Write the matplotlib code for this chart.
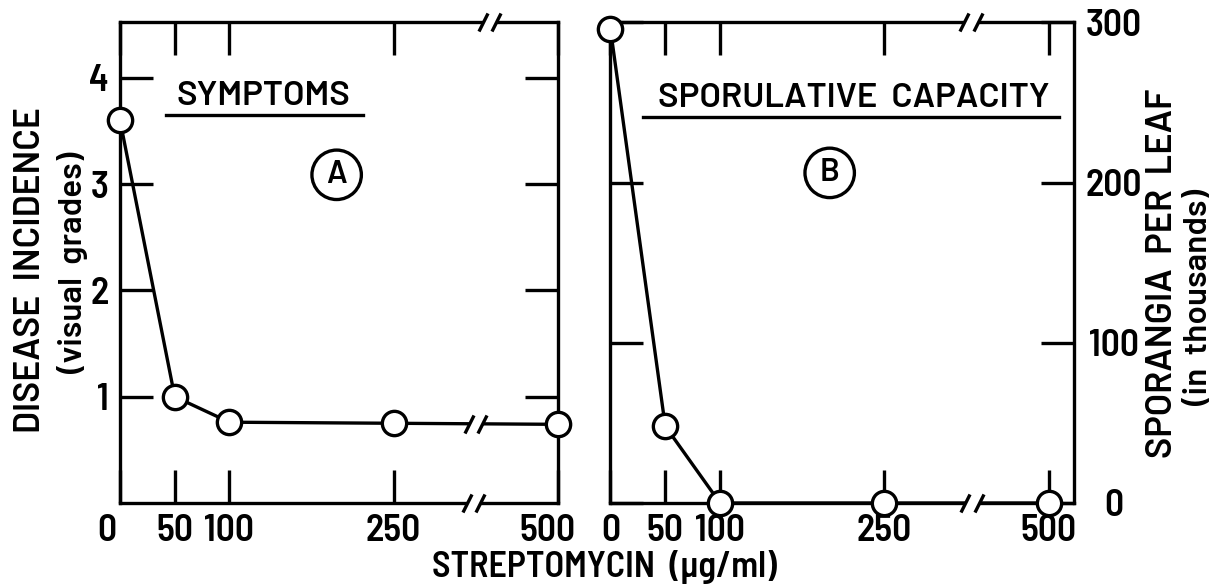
import matplotlib
matplotlib.use("Agg")
import matplotlib.pyplot as plt
from matplotlib.transforms import ScaledTranslation
import numpy as np

# streptomycin concentration (ug/ml); 500 sits after the axis break
conc_labels = ["0", "50", "100", "250", "500"]
conc_pos = [0, 50, 100, 250, 400]
# panel A: disease incidence (visual grades)
symptoms = [3.6, 1.0, 0.76, 0.75, 0.74]
# panel B: sporangia per leaf (thousands)
sporangia = [296, 48, 0, 0, 0]

NUM = ["Barlow Semi Condensed", "Liberation Sans", "DejaVu Sans"]
TXT = ["Barlow", "Liberation Sans", "DejaVu Sans"]
plt.rcParams["font.family"] = NUM
plt.rcParams["font.weight"] = 600
LW = 2.4
K = "black"

fig = plt.figure(figsize=(12.16, 5.84), dpi=100)
axA = fig.add_axes([0.0987, 0.1387, 0.3599, 0.8228])
axB = fig.add_axes([0.502, 0.1387, 0.3812, 0.8228])


def style(ax):
    for s in ax.spines.values():
        s.set_linewidth(LW)
    ax.tick_params(direction="in", length=24, width=LW, top=True, right=True,
                   labelsize=27, pad=8)


def brk(ax, x, y, dx):
    # white gap + two slashes
    ax.plot([x - dx, x + dx], [y, y], color="white", lw=LW + 4,
            solid_capstyle="butt", clip_on=False, zorder=5)
    ax.plot([x - dx, x + dx], [y, y], ls="none", marker=[(-1, -2), (1, 2)],
            ms=13, mew=LW, color=K, clip_on=False, zorder=6)


def draw(ax, y):
    ax.plot(conc_pos, y, "-", color=K, lw=LW, clip_on=False, zorder=3)
    ax.plot(conc_pos, y, "o", ms=17.5, mfc="white", mec=K, mew=LW,
            clip_on=False, zorder=7)


def title(ax, s, xc, yc, x0, x1, yl):
    ax.text(xc, yc, s, transform=ax.transAxes, ha="center", va="center",
            fontsize=25, family=TXT)
    ax.plot([x0, x1], [yl, yl], color=K, lw=LW, transform=ax.transAxes, clip_on=False)


def circ(ax, s, x, y):
    ax.text(x, y, s, transform=ax.transAxes, ha="center", va="center", fontsize=23,
            family=TXT, bbox=dict(boxstyle="circle,pad=0.32", fc="white", ec=K, lw=LW))


def ylab(x, y, s, size):
    fig.text(x, y, s, rotation=90, ha="center", va="center", fontsize=size, family=TXT)


# ---------- panel A ----------
style(axA)
axA.set_xlim(0, 400); axA.set_ylim(0, 4.52)
axA.set_xticks(conc_pos, conc_labels)
axA.set_yticks([1, 2, 3, 4], ["1", "2", "3", "4"])
draw(axA, symptoms)
brk(axA, 338, 4.52, 6)
brk(axA, 323, 0, 6)
brk(axA, 325, np.interp(325, conc_pos, symptoms), 6)
title(axA, "SYMPTOMS", 0.327, 0.845, 0.105, 0.555, 0.8085)
circ(axA, "A", 0.495, 0.683)
ylab(0.0252, 0.5377, "DISEASE  INCIDENCE", 25.5)
ylab(0.0597, 0.55, "(visual  grades)", 24)

# nudge end labels like the original
lab = axA.get_xticklabels()
lab[0].set_transform(lab[0].get_transform() + ScaledTranslation(-0.13, 0, fig.dpi_scale_trans))
lab[-1].set_transform(lab[-1].get_transform() + ScaledTranslation(-0.10, 0, fig.dpi_scale_trans))

# ---------- panel B ----------
style(axB)
axB.set_xlim(0, 423); axB.set_ylim(0, 300)
axB.set_xticks(conc_pos, conc_labels)
axB.set_yticks([0, 100, 200, 300], ["0", "100", "200", "300"])
axB.tick_params(axis="y", labelleft=False, labelright=True, pad=29)
for t in axB.get_yticklabels():
    t.set_ha("center")
draw(axB, sporangia)
brk(axB, 329, 300, 6)
brk(axB, 330, 0, 6)
title(axB, "SPORULATIVE  CAPACITY", 0.525, 0.842, 0.070, 0.968, 0.803)
circ(axB, "B", 0.473, 0.687)
ylab(0.9564, 0.5325, "SPORANGIA  PER  LEAF", 26)
ylab(0.986, 0.4914, "(in  thousands)", 24)

fig.text(0.4967, 0.029, "STREPTOMYCIN  (\u00b5g/ml)", ha="center", va="center", fontsize=26)

fig.savefig("out.png", dpi=100, facecolor="white")
